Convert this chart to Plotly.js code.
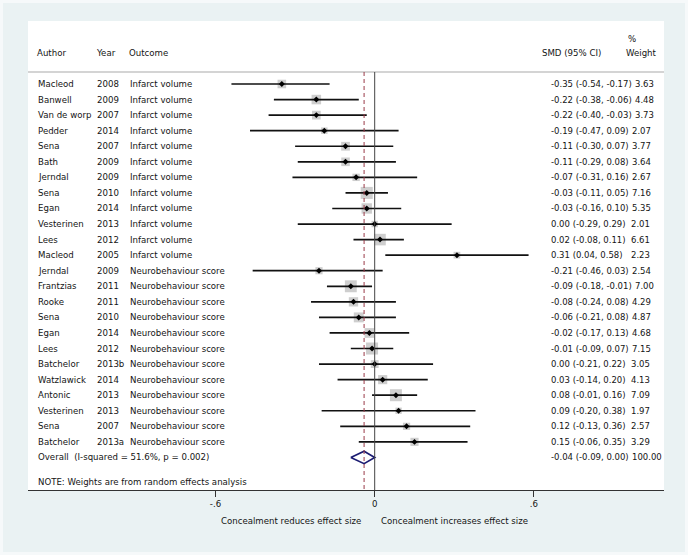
<!DOCTYPE html>
<html>
<head>
<meta charset="utf-8">
<script src="https://cdn.plot.ly/plotly-3.0.1.min.js"></script>
<style>
  html, body { margin: 0; padding: 0; background: rgb(234,242,243); }
  #chart { width: 688px; height: 555px; }
</style>
</head>
<body>
<div id="chart"></div>
<script>
// ---------------- data ----------------
const authors = ["Macleod","Banwell","Van de worp","Pedder","Sena","Bath","Jerndal","Sena","Egan","Vesterinen","Lees","Macleod",
                 "Jerndal","Frantzias","Rooke","Sena","Egan","Lees","Batchelor","Watzlawick","Antonic","Vesterinen","Sena","Batchelor"];
const years = ["2008","2009","2007","2014","2007","2009","2009","2010","2014","2013","2012","2005",
               "2009","2011","2011","2010","2014","2012","2013b","2014","2013","2013","2007","2013a"];
const outcomes = ["Infarct volume","Infarct volume","Infarct volume","Infarct volume","Infarct volume","Infarct volume",
                  "Infarct volume","Infarct volume","Infarct volume","Infarct volume","Infarct volume","Infarct volume",
                  "Neurobehaviour score","Neurobehaviour score","Neurobehaviour score","Neurobehaviour score",
                  "Neurobehaviour score","Neurobehaviour score","Neurobehaviour score","Neurobehaviour score",
                  "Neurobehaviour score","Neurobehaviour score","Neurobehaviour score","Neurobehaviour score"];
const smd = [-0.35,-0.22,-0.22,-0.19,-0.11,-0.11,-0.07,-0.03,-0.03,0.00,0.02,0.31,
             -0.21,-0.09,-0.08,-0.06,-0.02,-0.01,0.00,0.03,0.08,0.09,0.12,0.15];
const ciLow = [-0.54,-0.38,-0.40,-0.47,-0.30,-0.29,-0.31,-0.11,-0.16,-0.29,-0.08,0.04,
               -0.46,-0.18,-0.24,-0.21,-0.17,-0.09,-0.21,-0.14,-0.01,-0.20,-0.13,-0.06];
const ciHigh = [-0.17,-0.06,-0.03,0.09,0.07,0.08,0.16,0.05,0.10,0.29,0.11,0.58,
                0.03,-0.01,0.08,0.08,0.13,0.07,0.22,0.20,0.16,0.38,0.36,0.35];
const weights = [3.63,4.48,3.73,2.07,3.77,3.64,2.67,7.16,5.35,2.01,6.61,2.23,
                 2.54,7.00,4.29,4.87,4.68,7.15,3.05,4.13,7.09,1.97,2.57,3.29];
const overallSmd = -0.04, overallLow = -0.09, overallHigh = 0.00, overallWeight = 100.00;
const overallLabel = "Overall\u00a0\u00a0(I-squared = 51.6%, p = 0.002)";
const noteLabel = "NOTE: Weights are from random effects analysis";
const tickVals = [-0.6, 0, 0.6];
const tickText = ["-.6", "0", ".6"];
const leftCaption = "Concealment reduces effect size";
const rightCaption = "Concealment increases effect size";

// ---------------- layout helpers ----------------
const W = 688, H = 555;
const mL = 28, mR = 24, mT = 21, mB = 65;
const pw = W - mL - mR;
const ph = H - mT - mB;
const rowPx = 15.56, row0Px = 84;
const yTop = (mT - row0Px) / rowPx;
const yBot = (H - mB - row0Px) / rowPx;
const px2paper = px => (px - mL) / pw;
const py2paper = py => (H - mB - py) / ph;
const pxY = py => (py - row0Px) / rowPx;

const FONT = '"DejaVu Sans", Verdana, sans-serif';
const fs = 8.6, fsNum = 8.5;
const txtColor = '#141414';

const meas = document.createElement('canvas').getContext('2d');
meas.font = fsNum + 'px "DejaVu Sans"';

const fmt = v => v.toFixed(2);
const ciStr = (e, l, h) => fmt(e) + ' (' + fmt(l) + ', ' + fmt(h) + ')';

const annotations = [];
function ann(text, xPx, yRow, extra) {
  annotations.push(Object.assign({
    text: text, xref: 'paper', yref: 'y', x: px2paper(xPx), y: yRow,
    xanchor: 'left', yanchor: 'middle', showarrow: false, borderpad: 0,
    font: { family: FONT, size: fs, color: txtColor }
  }, extra || {}));
}

// headers
ann('Author', 36, pxY(53));
ann('Year', 95, pxY(53));
ann('Outcome', 128, pxY(53));
ann('SMD (95% CI)', 541, pxY(53));
ann('%', 627, pxY(39));
ann('Weight', 624.5, pxY(53));

const ciX = 549.5, wColX = 630;
function statRow(e, l, h, w, r) {
  const s = ciStr(e, l, h);
  ann(s, ciX, r, { font: { family: FONT, size: fsNum, color: txtColor } });
  const sw = meas.measureText(s).width;
  const wx = Math.max(wColX, ciX + sw + 3.5);
  ann(w.toFixed(2), wx, r, { font: { family: FONT, size: fsNum, color: txtColor } });
}

const rows = authors.map((_, i) => i);
rows.forEach(i => {
  ann(authors[i], 36.5, i);
  ann(years[i], 95.5, i);
  ann(outcomes[i], 128.5, i);
  statRow(smd[i], ciLow[i], ciHigh[i], weights[i], i);
});
const overallRow = authors.length;
ann(overallLabel, 36.5, overallRow);
statRow(overallSmd, overallLow, overallHigh, overallWeight, overallRow);
ann(noteLabel, 36.5, pxY(482));

// captions under axis
annotations.push({ text: leftCaption, xref: 'x', yref: 'paper', x: 0, y: py2paper(521),
  xanchor: 'right', yanchor: 'middle', xshift: -13, showarrow: false, borderpad: 0,
  font: { family: FONT, size: fs, color: txtColor } });
annotations.push({ text: rightCaption, xref: 'x', yref: 'paper', x: 0, y: py2paper(521),
  xanchor: 'left', yanchor: 'middle', xshift: 5, showarrow: false, borderpad: 0,
  font: { family: FONT, size: fs, color: txtColor } });

// ---------------- traces ----------------
const boxes = {
  type: 'scatter', mode: 'markers', x: smd, y: rows, hoverinfo: 'skip',
  marker: { symbol: 'square', size: weights.map(w => 4.5 * Math.sqrt(w)), color: '#b9b9b9', line: { width: 0 } }
};
const points = {
  type: 'scatter', mode: 'markers', x: smd, y: rows, hoverinfo: 'skip',
  marker: { symbol: 'diamond', size: 4.6, color: '#000' },
  error_x: { type: 'data', symmetric: false,
    array: smd.map((e, i) => ciHigh[i] - e), arrayminus: smd.map((e, i) => e - ciLow[i]),
    width: 0, thickness: 1.7, color: '#111' }
};
const diamond = {
  type: 'scatter', mode: 'lines', hoverinfo: 'skip',
  x: [overallLow, overallSmd, overallHigh, overallSmd, overallLow],
  y: [overallRow, overallRow - 0.4, overallRow, overallRow + 0.4, overallRow],
  line: { color: '#1c1c72', width: 1.7 }
};

const xMin = (mL - 374.7) / 265.3, xMax = (W - mR - 374.7) / 265.3;
const hdrY = pxY(72);

const layout = {
  width: W, height: H,
  margin: { l: mL, r: mR, t: mT, b: mB, pad: 0 },
  paper_bgcolor: 'rgb(234,242,243)', plot_bgcolor: '#ffffff',
  showlegend: false,
  xaxis: {
    range: [xMin, xMax], tickvals: tickVals, ticktext: tickText,
    ticks: 'outside', ticklen: 6, tickwidth: 1, tickcolor: '#333',
    showline: true, linecolor: '#333', linewidth: 1, showgrid: false, zeroline: false,
    tickfont: { family: FONT, size: fs, color: txtColor }, fixedrange: true
  },
  yaxis: { range: [yBot, yTop], visible: false, fixedrange: true },
  shapes: [
    { type: 'rect', xref: 'paper', yref: 'paper', layer: 'below',
      x0: px2paper(1.5), x1: px2paper(W - 1.5), y0: py2paper(H - 1.5), y1: py2paper(1.5),
      line: { color: 'rgb(246,249,250)', width: 3 } },
    { type: 'line', xref: 'paper', yref: 'y', x0: 0, x1: 1, y0: hdrY, y1: hdrY,
      line: { color: '#a9a9a9', width: 1 } },
    { type: 'line', xref: 'x', yref: 'y', x0: 0, x1: 0, y0: hdrY, y1: yBot,
      line: { color: '#444', width: 1 } },
    { type: 'line', xref: 'x', yref: 'y', x0: overallSmd, x1: overallSmd, y0: hdrY, y1: yBot,
      line: { color: '#9a3a48', width: 1, dash: '4px,3px' } }
  ],
  annotations: annotations
};

Plotly.newPlot('chart', [boxes, points, diamond], layout, { staticPlot: true, displayModeBar: false });
</script>
</body>
</html>
